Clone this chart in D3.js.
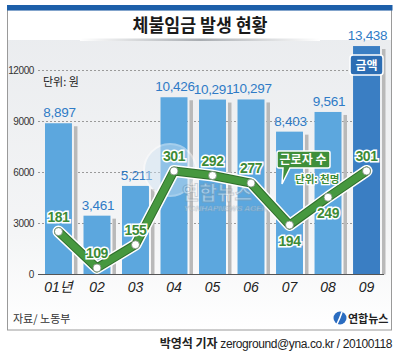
<!DOCTYPE html>
<html><head><meta charset="utf-8">
<script src="https://cdn.jsdelivr.net/npm/d3@7"></script>
<style>html,body{margin:0;padding:0;background:#fff}svg{display:block}</style>
</head><body>
<svg id="c" width="400" height="357"></svg>
<script>
const years = ["01년","02","03","04","05","06","07","08","09"];
const amounts = [8897,3461,5211,10426,10291,10297,8403,9561,13438];
const workers = [181,109,155,301,292,277,194,249,301];
const workerLabelSide = ["above","above","above","above","above","above","below","below","above"];
const yTicks = [0,3000,6000,9000,12000];

const svg = d3.select("#c");
const defs = svg.append("defs");
const bg = defs.append("linearGradient").attr("id","bg").attr("x1",0).attr("x2",0).attr("y1",0).attr("y2",1);
bg.append("stop").attr("offset","0%").attr("stop-color","#e9ebee");
bg.append("stop").attr("offset","70%").attr("stop-color","#f4f5f6");
bg.append("stop").attr("offset","100%").attr("stop-color","#ffffff");
const sh = defs.append("linearGradient").attr("id","tsh").attr("x1",0).attr("x2",1);
sh.append("stop").attr("offset","0%").attr("stop-color","#ffffff");
sh.append("stop").attr("offset","50%").attr("stop-color","#a9adb2");
sh.append("stop").attr("offset","100%").attr("stop-color","#ffffff");

// frame
svg.append("rect").attr("x",7.5).attr("y",5.5).attr("width",384).attr("height",324.5).attr("fill","url(#bg)").attr("stroke","#9a9a9a");
svg.append("rect").attr("x",8).attr("y",11).attr("width",383).attr("height",29).attr("fill","#fff");
svg.append("rect").attr("x",7).attr("y",5).attr("width",385.5).attr("height",5.5).attr("fill","#1d5fa9");
svg.append("rect").attr("x",80).attr("y",38.5).attr("width",240).attr("height",2.5).attr("fill","url(#tsh)");
svg.append("text").attr("x",200).attr("y",32).attr("text-anchor","middle")
  .attr("font-family","Noto Sans CJK KR").attr("font-weight","bold").attr("font-size",18)
  .attr("textLength",135).attr("lengthAdjust","spacingAndGlyphs").attr("fill","#1a1a1a").text("체불임금 발생 현황");

const x = d3.scaleBand().domain(years).range([45,380]).paddingInner(0.3).paddingOuter(0);
const y = d3.scaleLinear().domain([0,12000]).range([274.5,70.5]);
const y2 = d3.scaleLinear().domain([0,400]).range([323,121]);

// gridlines
svg.append("g").selectAll("line").data(yTicks.filter(d=>d>0)).join("line")
  .attr("x1",38).attr("x2",384).attr("y1",d=>y(d)).attr("y2",d=>y(d))
  .attr("stroke","#9a9a9a").attr("stroke-width",1).attr("stroke-dasharray","2,2");

// y axis labels
const yAxis = d3.axisLeft(y).tickValues(yTicks).tickSize(0).tickPadding(4).tickFormat(d3.format("d"));
const ga = svg.append("g").attr("transform","translate(38,0)").call(yAxis);
ga.select(".domain").remove();
ga.selectAll("text").attr("font-family","Liberation Sans").attr("font-size",10).attr("fill","#333").attr("letter-spacing",-0.4);

svg.append("text").attr("x",43).attr("y",86).attr("font-family","Noto Sans CJK KR").attr("font-size",11).attr("fill","#222").text("단위: 원");

// bar shadows
svg.append("g").selectAll("rect").data(amounts).join("rect")
  .attr("x",(d,i)=>x(years[i])+x.bandwidth()+2).attr("width",3.5)
  .attr("y",d=>y(d)+3).attr("height",d=>y(0)-y(d)-3).attr("fill","#b9b9b9");
// bars
svg.append("g").selectAll("rect").data(amounts).join("rect")
  .attr("x",(d,i)=>x(years[i])).attr("width",x.bandwidth())
  .attr("y",d=>y(d)).attr("height",d=>y(0)-y(d))
  .attr("fill",(d,i)=>i===years.length-1?"#3a7ec3":"#5ca7de");
// bar labels
svg.append("g").selectAll("text").data(amounts).join("text")
  .attr("x",(d,i)=>x(years[i])+x.bandwidth()/2+1).attr("y",d=>y(d)-6)
  .attr("text-anchor","middle").attr("font-family","Liberation Sans").attr("font-size",13.5)
  .attr("letter-spacing",-0.3).attr("fill","#2f7bc6").text(d=>d3.format(",")(d));

// axis line
svg.append("line").attr("x1",38).attr("x2",384).attr("y1",y(0)).attr("y2",y(0)).attr("stroke","#555").attr("stroke-width",1.2);
// x labels
svg.append("g").selectAll("text").data(years).join("text")
  .attr("x",d=>x(d)+x.bandwidth()/2).attr("y",292).attr("text-anchor","middle")
  .attr("font-family","Liberation Sans, Noto Sans CJK KR").attr("font-style","italic").attr("font-size",14)
  .attr("fill","#222").text(d=>d);

// watermark
const wm = svg.append("g").attr("opacity",0.45);
wm.append("circle").attr("cx",170).attr("cy",170).attr("r",26).attr("fill","#cfe3f3").attr("stroke","#fff").attr("stroke-width",2);
wm.append("text").attr("x",182).attr("y",200).attr("font-family","Noto Sans CJK KR").attr("font-weight","bold").attr("font-size",19)
  .attr("fill","#ffffff").attr("stroke","#8a9aa8").attr("stroke-width",0.8).text("연합뉴스");
wm.append("text").attr("x",184).attr("y",211).attr("font-family","Liberation Sans").attr("font-style","italic").attr("font-weight","bold").attr("font-size",8)
  .attr("fill","#ffffff").attr("stroke","#8a9aa8").attr("stroke-width",0.5).text("YONHAPNEWS AGENCY");

// worker line
const cx = (d,i)=>x(years[i])+x.bandwidth()/2;
const line = d3.line().x(cx).y(d=>y2(d));
svg.append("path").datum(workers).attr("d",line).attr("fill","none").attr("stroke","#ffffff").attr("stroke-width",12).attr("stroke-linejoin","round").attr("stroke-linecap","round");
svg.append("path").datum(workers).attr("d",line).attr("fill","none").attr("stroke","#2f6e2c").attr("stroke-width",9).attr("stroke-linejoin","round").attr("stroke-linecap","round");
svg.append("path").datum(workers).attr("d",line).attr("fill","none").attr("stroke","#46983f").attr("stroke-width",7).attr("stroke-linejoin","round").attr("stroke-linecap","round");
svg.append("g").selectAll("circle").data(workers).join("circle")
  .attr("cx",cx).attr("cy",d=>y2(d)).attr("r",4).attr("fill","#fff").attr("stroke","#7a8a78").attr("stroke-width",0.8);
svg.append("g").selectAll("text").data(workers).join("text")
  .attr("x",cx).attr("y",(d,i)=>y2(d)+(workerLabelSide[i]==="above"?-10:21))
  .attr("text-anchor","middle").attr("font-family","Liberation Sans").attr("font-weight","bold").attr("font-size",14)
  .attr("letter-spacing",-0.5).attr("fill","#3d8b37").attr("stroke","#fff").attr("stroke-width",3).attr("paint-order","stroke").text(d=>d);

// callout
const co = svg.append("g");
co.append("path").attr("d","M279,151 h49 a2,2 0 0 1 2,2 v13 a2,2 0 0 1 -2,2 h-38 l-8,16 l1,-16 h-4 a2,2 0 0 1 -2,-2 v-13 a2,2 0 0 1 2,-2 z")
  .attr("fill","#3f8f3a").attr("stroke","#fff").attr("stroke-width",1.5);
co.append("text").attr("x",303).attr("y",164).attr("text-anchor","middle").attr("font-family","Noto Sans CJK KR").attr("font-weight","bold").attr("font-size",12).attr("fill","#fff").text("근로자 수");
svg.append("text").attr("x",295).attr("y",183).attr("font-family","Noto Sans CJK KR").attr("font-weight","bold").attr("font-size",10.5)
  .attr("fill","#3d8b37").attr("stroke","#fff").attr("stroke-width",2.5).attr("paint-order","stroke").text("단위: 천명");

// 금액 badge
const lx = x(years[8]);
svg.append("rect").attr("x",lx-3).attr("y",55).attr("width",x.bandwidth()+6).attr("height",20).attr("rx",3)
  .attr("fill","#2c6db3").attr("stroke","#fff").attr("stroke-width",1.5);
svg.append("text").attr("x",lx+x.bandwidth()/2).attr("y",70).attr("text-anchor","middle").attr("font-family","Noto Sans CJK KR").attr("font-weight","bold").attr("font-size",12).attr("fill","#fff").text("금액");

// footer
svg.append("text").attr("x",13).attr("y",323).attr("font-family","Noto Sans CJK KR").attr("font-size",11).attr("fill","#333").text("자료/ 노동부");
svg.append("circle").attr("cx",340).attr("cy",318).attr("r",6.5).attr("fill","#2a6cc0");
svg.append("path").attr("d","M342,312 q-2,6 -5,12").attr("stroke","#fff").attr("stroke-width",1.6).attr("fill","none");
svg.append("text").attr("x",348).attr("y",322.5).attr("font-family","Noto Sans CJK KR").attr("font-weight","bold").attr("font-size",11).attr("fill","#222").text("연합뉴스");
const ft = svg.append("text").attr("x",392).attr("y",348).attr("text-anchor","end").attr("font-size",12).attr("fill","#222");
ft.append("tspan").attr("font-family","Noto Sans CJK KR").attr("font-weight","bold").text("박영석 기자 ");
ft.append("tspan").attr("font-family","Liberation Sans").attr("letter-spacing",-0.4).text("zeroground@yna.co.kr / 20100118");
</script>
</body></html>
